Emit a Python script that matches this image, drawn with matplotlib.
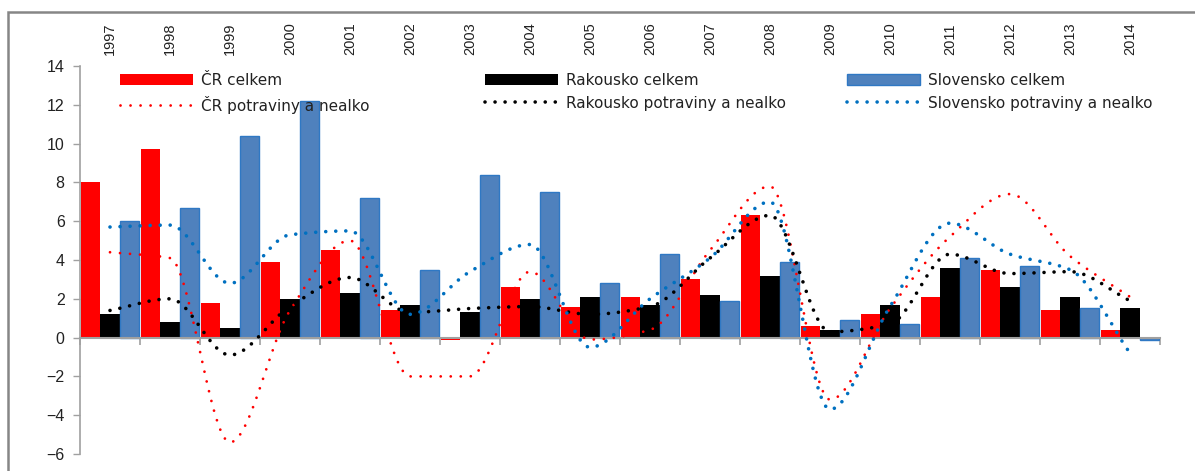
import numpy as np
import matplotlib
matplotlib.use("Agg")
import matplotlib.pyplot as plt
from matplotlib.patches import Rectangle

years = [str(y) for y in range(1997, 2015)]

cr_total = [8.0, 9.7, 1.8, 3.9, 4.5, 1.4, -0.1, 2.6, 1.6, 2.1, 3.0, 6.3, 0.6, 1.2, 2.1, 3.5, 1.4, 0.4]
at_total = [1.2, 0.8, 0.5, 2.0, 2.3, 1.7, 1.3, 2.0, 2.1, 1.7, 2.2, 3.2, 0.4, 1.7, 3.6, 2.6, 2.1, 1.5]
sk_total = [6.0, 6.7, 10.4, 12.2, 7.2, 3.5, 8.4, 7.5, 2.8, 4.3, 1.9, 3.9, 0.9, 0.7, 4.1, 3.7, 1.5, -0.1]

cr_food = [4.4, 4.1, -5.4, 1.4, 5.0, -2.0, -2.0, 3.4, -0.1, 0.4, 4.5, 7.8, -3.2, 1.5, 5.2, 7.4, 4.2, 2.1]
at_food = [1.4, 2.0, -0.9, 1.6, 3.1, 1.3, 1.5, 1.6, 1.2, 1.6, 4.1, 6.3, 0.3, 0.7, 4.3, 3.3, 3.4, 1.9]
sk_food = [5.7, 5.8, 2.8, 5.3, 5.5, 1.2, 3.4, 4.8, -0.5, 2.0, 4.1, 7.0, -3.7, 1.6, 5.9, 4.3, 3.5, -0.8]

bar_labels = ["ČR celkem", "Rakousko celkem", "Slovensko celkem"]
line_labels = ["ČR potraviny a nealko", "Rakousko potraviny a nealko", "Slovensko potraviny a nealko"]


def smooth(x, y, n=30):
    # monotone cubic (Fritsch-Carlson) so flat runs stay flat, no overshoot
    x = np.asarray(x, float)
    y = np.asarray(y, float)
    h = np.diff(x)
    delta = np.diff(y) / h
    d = np.zeros_like(y)
    d[0] = delta[0]
    d[-1] = delta[-1]
    for k in range(1, len(y) - 1):
        if delta[k - 1] * delta[k] > 0:
            d[k] = 2.0 / (1.0 / delta[k - 1] + 1.0 / delta[k])
    xs, ys = [], []
    t = np.linspace(0, 1, n, endpoint=False)
    for k in range(len(y) - 1):
        h00 = 2 * t ** 3 - 3 * t ** 2 + 1
        h10 = t ** 3 - 2 * t ** 2 + t
        h01 = -2 * t ** 3 + 3 * t ** 2
        h11 = t ** 3 - t ** 2
        xs.append(x[k] + t * h[k])
        ys.append(h00 * y[k] + h10 * h[k] * d[k] + h01 * y[k + 1] + h11 * h[k] * d[k + 1])
    xs.append([x[-1]])
    ys.append([y[-1]])
    return np.concatenate(xs), np.concatenate(ys)


W, H = 1195, 471
fig = plt.figure(figsize=(W / 100, H / 100), dpi=100)
ax = fig.add_axes([80 / W, (H - 454) / H, 1080 / W, 388 / H])

# outer chart frame
fig.patches.append(Rectangle((8 / W, -0.2), 1.2, (H - 12) / H + 0.2, transform=fig.transFigure,
                             fill=False, edgecolor="#868686", lw=1.8))

x = np.arange(len(years))
bw = 0.325
b1 = ax.bar(x - bw, cr_total, bw, color="#FF0000", label=bar_labels[0], zorder=2)
b2 = ax.bar(x, at_total, bw, color="#000000", label=bar_labels[1], zorder=2)
b3 = ax.bar(x + bw, sk_total, bw, color="#4F81BD", edgecolor="#2F78C4", lw=1.0,
            label=bar_labels[2], zorder=2)

lines = []
for vals, col, lw in [(cr_food, "#FF0000", 2.0), (at_food, "#000000", 2.6), (sk_food, "#0070C0", 2.6)]:
    sx, sy = smooth(x, vals)
    ln, = ax.plot(sx, sy, color=col, lw=lw, linestyle=(0, (0.01, 7.2 / lw)),
                  dash_capstyle="round", zorder=3)
    lines.append(ln)
for ln, lab in zip(lines, line_labels):
    ln.set_label(lab)

ax.set_xlim(-0.5, len(years) - 0.5)
ax.set_ylim(-6, 14)
ax.set_yticks(np.arange(-6, 15, 2))
ax.tick_params(axis="y", direction="out", length=5, color="#A0A0A0", width=1,
               labelsize=11.5, pad=6, labelcolor="#222222")
for lab in ax.get_yticklabels():
    lab.set_family(["Liberation Sans", "DejaVu Sans"])

ax.spines["top"].set_visible(False)
ax.spines["right"].set_visible(False)
ax.spines["left"].set_color("#A0A0A0")
ax.spines["left"].set_linewidth(1.2)
ax.spines["bottom"].set_position(("data", 0))
ax.spines["bottom"].set_color("#A0A0A0")
ax.spines["bottom"].set_linewidth(1.5)
ax.set_xticks(np.arange(len(years) + 1) - 0.5)
ax.tick_params(axis="x", direction="out", length=5, color="#A0A0A0", width=1.2, labelbottom=False)

top = ax.secondary_xaxis("top")
top.set_xticks(x)
top.set_xticklabels(years, rotation=90, fontsize=10.5,
                    family=["Liberation Sans", "DejaVu Sans"], color="#222222")
top.tick_params(length=0, pad=8)
top.spines["top"].set_visible(False)

# legend: three columns, bar on top row, dotted line below
handle_x = [120, 485, 847]
for hx, bh, lh in zip(handle_x, [b1, b2, b3], lines):
    leg = fig.legend([bh, lh], [bh.get_label(), lh.get_label()], loc="upper left",
                     bbox_to_anchor=(hx / W, (H - 73) / H), frameon=False,
                     borderpad=0, borderaxespad=0, handlelength=4.8, handletextpad=0.5,
                     labelspacing=0.5, prop={"family": "DejaVu Sans", "size": 11})
    for t in leg.get_texts():
        t.set_color("#222222")

fig.savefig("out.png", dpi=100)
